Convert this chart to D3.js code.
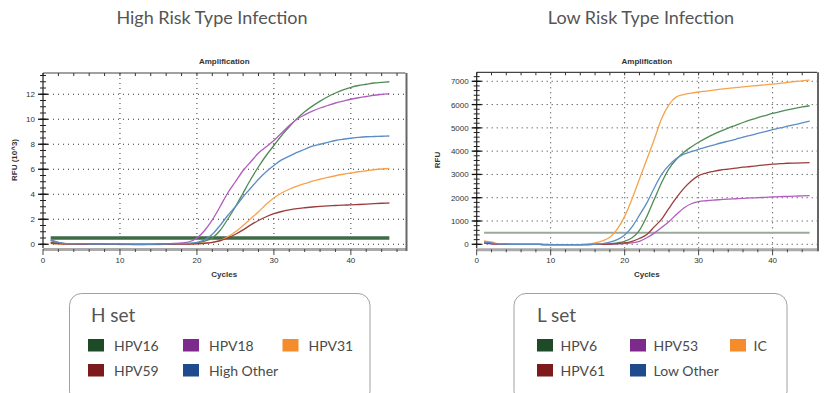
<!DOCTYPE html>
<html>
<head>
<meta charset="utf-8">
<script src="https://cdn.jsdelivr.net/npm/d3@7"></script>
<style>
  body { margin: 0; background: #fff; }
  svg { display: block; }
</style>
</head>
<body>
<svg id="vis" width="828" height="393"></svg>
<script>
// cycles 1..45
const cycles = d3.range(1, 46);

// High risk set, RFU x 10^3
const hpv16 = [0.15,0.08,0.03,0.02,0.02,0.01,0.01,0,0,0,-0.01,-0.02,-0.02,-0.01,0,0,0.01,0.02,0.05,0.1,0.25,0.5,1.1,2.0,3.0,4.1,5.2,6.2,7.1,7.9,8.7,9.4,10.05,10.6,11.05,11.45,11.8,12.1,12.35,12.55,12.7,12.8,12.9,12.95,13.0];
const hpv18 = [0.3,0.15,0.05,0.03,0.02,0.02,0.02,0.01,0.01,0.01,0,-0.01,-0.01,0,0.01,0.03,0.06,0.1,0.2,0.5,1.1,1.95,3.0,4.1,5.0,5.9,6.6,7.3,7.8,8.3,8.9,9.5,10.0,10.35,10.65,10.9,11.1,11.3,11.45,11.6,11.72,11.82,11.92,11.99,12.05];
const hpv31 = [0.05,0.03,0.01,0,0,0,-0.01,-0.01,-0.01,-0.02,-0.02,-0.02,-0.02,-0.02,-0.02,-0.01,0,0,0.02,0.05,0.08,0.15,0.3,0.6,1.0,1.5,2.05,2.6,3.2,3.7,4.1,4.4,4.65,4.85,5.05,5.2,5.35,5.48,5.6,5.7,5.8,5.88,5.96,6.02,6.06];
const hpv59 = [0.1,0.05,0.02,0.01,0,0,0,0,-0.01,-0.01,-0.01,-0.01,-0.01,-0.01,0,0,0,0.01,0.02,0.04,0.08,0.15,0.28,0.5,0.8,1.15,1.55,1.9,2.2,2.45,2.62,2.75,2.85,2.92,2.98,3.03,3.07,3.1,3.13,3.15,3.18,3.21,3.25,3.28,3.3];
const highOther = [0.35,0.15,0.05,0.03,0.03,0.02,0.02,0.02,0.01,0.01,0.01,0,0,0,0.01,0.02,0.03,0.05,0.08,0.15,0.35,0.8,1.5,2.3,3.0,3.8,4.5,5.2,5.8,6.3,6.75,7.05,7.35,7.6,7.85,8.0,8.15,8.3,8.4,8.48,8.55,8.6,8.62,8.64,8.66];
const hThreshold = 0.5;

// Low risk set, RFU
const hpv6 = [80,40,10,5,0,0,0,-5,-5,-10,-10,-10,-10,-10,-5,0,5,20,60,130,280,600,1200,1930,2650,3250,3650,3950,4180,4380,4560,4720,4860,4990,5110,5230,5340,5440,5530,5620,5700,5770,5840,5900,5950];
const hpv53 = [50,20,0,0,0,-5,-5,-5,-10,-10,-10,-10,-10,-10,-10,-5,0,5,15,30,60,130,280,480,720,980,1280,1560,1740,1830,1870,1900,1920,1940,1955,1970,1990,2000,2015,2030,2045,2055,2065,2080,2090];
const ic = [150,100,20,10,5,0,0,-5,-10,-10,-10,-15,-15,-10,10,60,150,300,650,1200,1950,2800,3650,4500,5400,6000,6330,6430,6490,6540,6580,6620,6660,6700,6730,6760,6790,6820,6850,6880,6910,6950,6990,7020,7050];
const hpv61 = [60,30,0,0,0,-5,-5,-5,-10,-10,-10,-10,-10,-10,-10,-5,0,10,30,60,130,250,420,750,1080,1550,2000,2400,2720,2950,3060,3130,3190,3230,3270,3310,3340,3380,3410,3440,3460,3480,3490,3500,3510];
const lowOther = [100,60,10,5,0,0,-5,-5,-10,-10,-10,-15,-15,-15,-10,0,30,90,200,400,750,1250,1780,2420,3000,3400,3680,3870,3980,4080,4170,4260,4350,4430,4510,4600,4680,4760,4840,4920,5000,5070,5140,5210,5290];
const lThreshold = 500;

const hNames = ["HPV16", "HPV18", "HPV31", "HPV59", "High Other"];
const lNames = ["HPV6", "HPV53", "IC", "HPV61", "Low Other"];
const lineColors = ["#4f8c55", "#b25cbf", "#f7a24e", "#9c3c3c", "#5a8cc6"];
const swatchColors = ["#1f4a27", "#7e2a8c", "#f58c2c", "#7c1a1c", "#1f4a8c"];

const xTicks = [0, 10, 20, 30, 40];
const hYTicks = [0, 2, 4, 6, 8, 10, 12];
const lYTicks = [0, 1000, 2000, 3000, 4000, 5000, 6000, 7000];

const svg = d3.select("#vis");

function drawChart(cfg) {
    const g = svg.append("g");
    const x = d3.scaleLinear().domain(cfg.xDomain).range([cfg.left, cfg.right]);
    const y = d3.scaleLinear().domain(cfg.yDomain).range([cfg.bottom, cfg.top]);

    // page heading
    g.append("text")
        .attr("x", cfg.headX).attr("y", 24)
        .attr("text-anchor", "middle")
        .style("font-family", "Lato, 'Open Sans', sans-serif")
        .style("font-size", "18px")
        .style("fill", "#555")
        .text(cfg.heading);

    g.append("text")
        .attr("x", (cfg.left + cfg.right) / 2).attr("y", 64)
        .attr("text-anchor", "middle")
        .style("font-family", "Arial, 'Liberation Sans', sans-serif")
        .style("font-size", "8px")
        .style("font-weight", "bold")
        .style("fill", "#333")
        .text("Amplification");

    // dotted grid
    g.selectAll(".vgrid").data(xTicks.filter(d => d > 0)).enter().append("line")
        .attr("x1", d => x(d)).attr("x2", d => x(d))
        .attr("y1", cfg.top).attr("y2", cfg.bottom)
        .attr("stroke", "#333").attr("stroke-width", 1)
        .attr("stroke-dasharray", "1,4");
    g.selectAll(".hgrid").data(cfg.yTicks).enter().append("line")
        .attr("x1", cfg.left).attr("x2", cfg.right)
        .attr("y1", d => y(d)).attr("y2", d => y(d))
        .attr("stroke", "#333").attr("stroke-width", 1)
        .attr("stroke-dasharray", "1,4");

    // threshold
    g.append("line")
        .attr("x1", x(1)).attr("x2", x(45))
        .attr("y1", y(cfg.threshold)).attr("y2", y(cfg.threshold))
        .attr("stroke", cfg.thColor).attr("stroke-width", cfg.thWidth);

    const line = d3.line()
        .x((d, i) => x(cycles[i]))
        .y(d => y(d))
        .curve(d3.curveMonotoneX);

    g.selectAll(".curve").data(cfg.series).enter().append("path")
        .attr("d", d => line(d))
        .attr("fill", "none")
        .attr("stroke", (d, i) => lineColors[i])
        .attr("stroke-width", 1.3);

    // frame with shadowed right/bottom edges
    g.append("line").attr("x1", cfg.left).attr("x2", cfg.right + 1)
        .attr("y1", cfg.bottom + 1.5).attr("y2", cfg.bottom + 1.5)
        .attr("stroke", "#aaa").attr("stroke-width", 3);
    g.append("line").attr("x1", cfg.right + 1).attr("x2", cfg.right + 1)
        .attr("y1", cfg.top).attr("y2", cfg.bottom + 3)
        .attr("stroke", "#666").attr("stroke-width", 2);
    g.append("line").attr("x1", cfg.left).attr("x2", cfg.right)
        .attr("y1", cfg.top).attr("y2", cfg.top)
        .attr("stroke", "#444").attr("stroke-width", 1.2);
    g.append("line").attr("x1", cfg.left).attr("x2", cfg.left)
        .attr("y1", cfg.top).attr("y2", cfg.bottom)
        .attr("stroke", "#222").attr("stroke-width", 1.2);

    // minor ticks
    const xMinor = d3.range(0, cfg.xDomain[1], 2);
    g.selectAll(".tt").data(xMinor).enter().append("line")
        .attr("x1", d => x(d)).attr("x2", d => x(d))
        .attr("y1", cfg.top).attr("y2", cfg.top + 3)
        .attr("stroke", "#333");
    g.selectAll(".bt").data(xMinor).enter().append("line")
        .attr("x1", d => x(d)).attr("x2", d => x(d))
        .attr("y1", cfg.bottom + 1).attr("y2", d => cfg.bottom + (d % 10 === 0 ? 7 : 4))
        .attr("stroke", "#444");
    const yMinor = d3.range(0, cfg.yDomain[1], cfg.yMinorStep);
    g.selectAll(".lt").data(yMinor).enter().append("line")
        .attr("x1", cfg.left - 3).attr("x2", cfg.left + 3)
        .attr("y1", d => y(d)).attr("y2", d => y(d))
        .attr("stroke", "#222");
    g.selectAll(".lmt").data(cfg.yTicks).enter().append("line")
        .attr("x1", cfg.left - 5).attr("x2", cfg.left + 5)
        .attr("y1", d => y(d)).attr("y2", d => y(d))
        .attr("stroke", "#111").attr("stroke-width", 1.3);

    // tick labels
    const tickFont = sel => sel
        .style("font-family", "Arial, 'Liberation Sans', sans-serif")
        .style("font-size", "8px")
        .style("fill", "#333");
    g.selectAll(".xl").data(xTicks).enter().append("text")
        .attr("x", d => x(d)).attr("y", 263)
        .attr("text-anchor", "middle")
        .call(tickFont)
        .text(d => d);
    g.selectAll(".yl").data(cfg.yTicks).enter().append("text")
        .attr("x", cfg.left - 8).attr("y", d => y(d) + 3)
        .attr("text-anchor", "end")
        .call(tickFont)
        .text(d => d);

    g.append("text")
        .attr("x", (cfg.left + cfg.right) / 2).attr("y", 277)
        .attr("text-anchor", "middle")
        .style("font-family", "Arial, 'Liberation Sans', sans-serif")
        .style("font-size", "8px").style("font-weight", "bold")
        .style("fill", "#333")
        .text("Cycles");
    g.append("text")
        .attr("transform", `translate(${cfg.yLabelX},160) rotate(-90)`)
        .attr("text-anchor", "middle")
        .style("font-family", "Arial, 'Liberation Sans', sans-serif")
        .style("font-size", "8px").style("font-weight", "bold")
        .style("fill", "#333")
        .text(cfg.yLabel);
}

function drawLegend(lg) {
    const g = svg.append("g");
    g.append("rect")
        .attr("x", lg.x).attr("y", 293.5)
        .attr("width", lg.w).attr("height", 110)
        .attr("rx", 12).attr("ry", 12)
        .attr("fill", "#fff").attr("stroke", "#a0a0a0").attr("stroke-width", 1);
    g.append("text")
        .attr("x", lg.titleX).attr("y", 322)
        .style("font-family", "Lato, 'Open Sans', sans-serif")
        .style("font-size", "19px")
        .style("fill", "#555")
        .text(lg.title);
    const items = g.selectAll(".item").data(lg.names).enter().append("g")
        .attr("transform", (d, i) => `translate(${lg.cols[i % 3]},${339 + Math.floor(i / 3) * 25})`);
    items.append("rect")
        .attr("x", 0).attr("y", 0).attr("width", 16).attr("height", 12.5)
        .attr("fill", (d, i) => swatchColors[i]);
    items.append("text")
        .attr("x", lg.labelDx).attr("y", 12)
        .style("font-family", "Lato, 'Open Sans', sans-serif")
        .style("font-size", "14px")
        .style("fill", "#4a4a4a")
        .text(d => d);
}

drawChart({
    heading: "High Risk Type Infection", headX: 212,
    left: 43, right: 405.5, top: 73, bottom: 248,
    xDomain: [0, 47.1], yDomain: [-0.3, 13.7],
    yTicks: hYTicks, yMinorStep: 0.5,
    series: [hpv16, hpv18, hpv31, hpv59, highOther],
    threshold: hThreshold, thColor: "#3e6a44", thWidth: 3.5,
    yLabel: "RFU (10^3)", yLabelX: 17
});
drawChart({
    heading: "Low Risk Type Infection", headX: 641,
    left: 476.7, right: 817, top: 72.3, bottom: 248.3,
    xDomain: [0, 46.0], yDomain: [-172, 7386],
    yTicks: lYTicks, yMinorStep: 200,
    series: [hpv6, hpv53, ic, hpv61, lowOther],
    threshold: lThreshold, thColor: "#9aaa9a", thWidth: 2,
    yLabel: "RFU", yLabelX: 440
});

drawLegend({ x: 69.5, w: 300.5, title: "H set", titleX: 91, names: hNames, cols: [88, 183, 282.5], labelDx: 26 });
drawLegend({ x: 514, w: 273, title: "L set", titleX: 537, names: lNames, cols: [537, 630, 730], labelDx: 23.5 });
</script>
</body>
</html>
